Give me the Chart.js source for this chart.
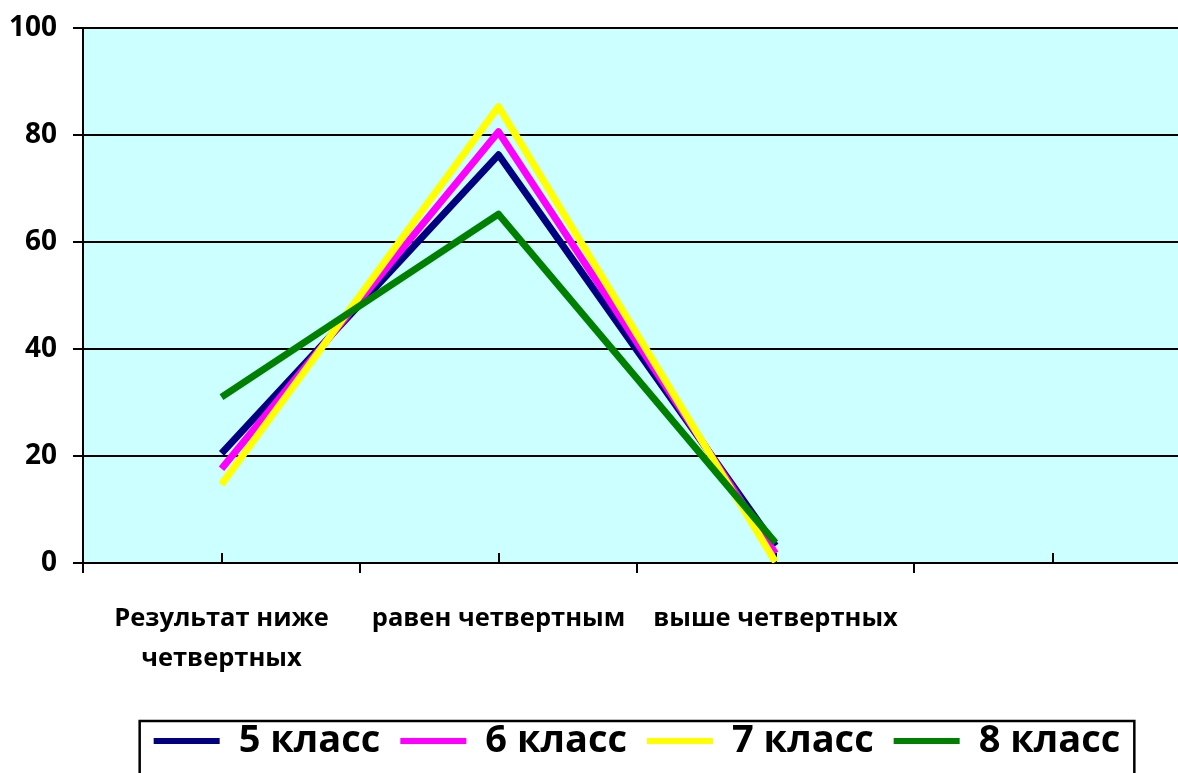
<!DOCTYPE html>
<html lang="ru">
<head>
<meta charset="utf-8">
<title>Результаты по классам</title>
<script src="https://cdn.jsdelivr.net/npm/chart.js@4.4.1/dist/chart.umd.min.js"></script>
<style>
  html, body { margin: 0; padding: 0; background: #ffffff; }
  #frame { width: 1178px; height: 773px; overflow: hidden; position: relative; }
  #chart { display: block; }
</style>
</head>
<body>
<div id="frame"><canvas id="chart" width="1192" height="800"></canvas></div>
<script>
// Categories (the fourth slot is left empty)
const categories = [['Результат ниже', 'четвертных'], 'равен четвертным', 'выше четвертных', ''];

// Share of pupils, %
const grade5 = [20.5, 76.3, 3.2, null];
const grade6 = [17.6, 80.6, 1.8, null];
const grade7 = [14.7, 85.3, 0.2, null];
const grade8 = [31.0, 65.2, 3.8, null];

const seriesNames = ['5 класс', '6 класс', '7 класс', '8 класс'];
const seriesColors = ['#000080', '#FF00FF', '#FFFF00', '#008000'];

const yTicks = [0, 20, 40, 60, 80, 100];

const FONT = '"Open Sans", "DejaVu Sans", sans-serif';

// Light cyan plot area
const plotBackground = {
  id: 'plotBackground',
  beforeDraw(chart) {
    const { ctx, chartArea: a } = chart;
    ctx.save();
    ctx.fillStyle = '#CCFFFF';
    ctx.fillRect(a.left, a.top, a.right - a.left, a.bottom - a.top);
    ctx.restore();
  }
};

// Short inward tick marks at the category centres
const innerTicks = {
  id: 'innerTicks',
  beforeDatasetsDraw(chart) {
    const { ctx } = chart;
    const x = chart.scales.x;
    const y0 = chart.scales.y.getPixelForValue(0);
    ctx.save();
    ctx.strokeStyle = '#000000';
    ctx.lineWidth = 2;
    ctx.beginPath();
    for (let i = 0; i < categories.length; i++) {
      const px = Math.round(x.getPixelForTick(i));
      ctx.moveTo(px, y0);
      ctx.lineTo(px, y0 - 10);
    }
    ctx.stroke();
    ctx.restore();
  }
};

// Frame around the legend
const legendFrame = {
  id: 'legendFrame',
  afterDraw(chart) {
    const boxes = chart.legend && chart.legend.legendHitBoxes;
    if (!boxes || !boxes.length) return;
    const first = boxes[0];
    const last = boxes[boxes.length - 1];
    const left = first.left - 14;
    const right = last.left + last.width + 14;
    const top = first.top - 1;
    const { ctx } = chart;
    ctx.save();
    ctx.strokeStyle = '#000000';
    ctx.lineWidth = 2.5;
    ctx.strokeRect(left, top, right - left, 120);
    ctx.restore();
  }
};

const dataSeries = [grade5, grade6, grade7, grade8];

new Chart(document.getElementById('chart'), {
  type: 'line',
  data: {
    labels: categories,
    datasets: dataSeries.map((values, i) => ({
      label: seriesNames[i],
      data: values,
      borderColor: seriesColors[i],
      backgroundColor: seriesColors[i],
      borderWidth: 7,
      borderJoinStyle: 'round',
      borderCapStyle: 'butt',
      pointRadius: 0,
      pointHoverRadius: 0,
      fill: false,
      tension: 0,
      order: dataSeries.length - i
    }))
  },
  options: {
    responsive: false,
    animation: false,
    devicePixelRatio: 1,
    layout: { padding: { top: 28, left: 0, right: 1, bottom: 30 } },
    plugins: {
      tooltip: { enabled: false },
      legend: {
        position: 'bottom',
        fullSize: false,
        labels: {
          boxWidth: 66,
          boxHeight: 6,
          padding: 20,
          color: '#000000',
          font: { family: FONT, size: 38, weight: 'bold' },
          sort: (a, b) => a.datasetIndex - b.datasetIndex,
          generateLabels(chart) {
            return chart.data.datasets.map((ds, i) => ({
              text: ds.label,
              fillStyle: ds.borderColor,
              strokeStyle: ds.borderColor,
              lineWidth: 0,
              hidden: false,
              datasetIndex: i
            }));
          }
        }
      }
    },
    scales: {
      x: {
        type: 'category',
        offset: true,
        afterFit(scale) { scale.height = 139; },
        grid: {
          offset: true,
          drawOnChartArea: false,
          drawTicks: true,
          tickLength: 10,
          color: '#000000',
          lineWidth: 2
        },
        border: { display: true, color: '#000000', width: 2 },
        ticks: {
          color: '#000000',
          padding: 25,
          maxRotation: 0,
          autoSkip: false,
          font: { family: FONT, size: 25.5, weight: 'bold', lineHeight: 1.6 }
        }
      },
      y: {
        min: 0,
        max: 100,
        afterFit(scale) {
          scale.width = 83;
          scale.paddingTop = 0;
          scale.paddingBottom = 0;
        },
        afterBuildTicks(scale) { scale.ticks = yTicks.map(v => ({ value: v })); },
        grid: {
          color: '#000000',
          lineWidth: 2,
          tickLength: 10,
          drawTicks: true
        },
        border: { display: true, color: '#000000', width: 2 },
        ticks: {
          color: '#000000',
          padding: 16,
          font: { family: FONT, size: 28, weight: 'bold' }
        }
      }
    }
  },
  plugins: [plotBackground, innerTicks, legendFrame]
});
</script>
</body>
</html>
